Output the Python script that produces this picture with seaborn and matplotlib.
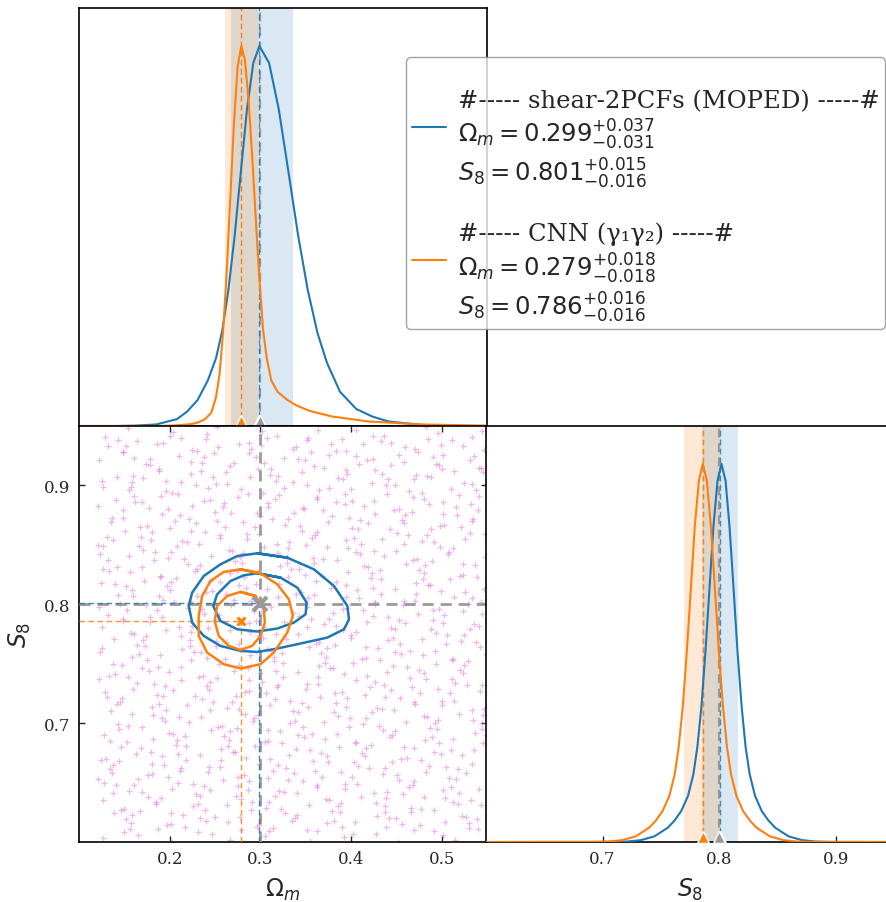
import matplotlib
matplotlib.use("Agg")
import matplotlib.pyplot as plt
from matplotlib.lines import Line2D
from matplotlib.transforms import offset_copy
import pandas as pd
import seaborn as sns

# ---------------------------------------------------------------- summary values
PARAM_NAMES = [r"\Omega_m", "S_8"]
TRUTH = [0.3, 0.8]
BEST_MOPED = [0.299, 0.801]
ERR_UP_MOPED = [0.037, 0.015]
ERR_DN_MOPED = [0.031, 0.016]
BEST_CNN = [0.279, 0.786]
ERR_UP_CNN = [0.018, 0.016]
ERR_DN_CNN = [0.018, 0.016]

# ---------------------------------------------------------------- 1D marginals (peak-normalised)
OM_X_MOPED = [0.10, 0.1396, 0.1623, 0.1851, 0.2079, 0.2193, 0.2307, 0.2421, 0.2512, 0.258,
              0.2648, 0.2717, 0.2785, 0.2853, 0.2922, 0.299, 0.3097, 0.3203, 0.331, 0.3417,
              0.3523, 0.363, 0.3737, 0.3879, 0.4057, 0.4234, 0.4412, 0.4768, 0.5123, 0.55]
OM_P_MOPED = [0.0, 0.0, 0.001, 0.004, 0.018, 0.038, 0.068, 0.12, 0.179, 0.251,
              0.358, 0.501, 0.669, 0.834, 0.955, 1.0, 0.955, 0.834, 0.669, 0.501,
              0.358, 0.245, 0.165, 0.09, 0.045, 0.025, 0.012, 0.003, 0.0, 0.0]
OM_X_CNN = [0.10, 0.189, 0.209, 0.224, 0.232, 0.239, 0.246, 0.251, 0.255, 0.259, 0.263,
            0.267, 0.271, 0.275, 0.279, 0.283, 0.287, 0.291, 0.295, 0.299, 0.303, 0.307,
            0.312, 0.319, 0.329, 0.339, 0.354, 0.379, 0.419, 0.479, 0.549]
OM_P_CNN = [0.0, 0.0, 0.002, 0.005, 0.010, 0.018, 0.035, 0.075, 0.135, 0.249, 0.411,
            0.607, 0.801, 0.946, 1.0, 0.963, 0.859, 0.710, 0.544, 0.386, 0.254, 0.18,
            0.12, 0.09, 0.07, 0.055, 0.04, 0.025, 0.012, 0.004, 0.001]

S8_X_MOPED = [0.60, 0.710, 0.7215, 0.733, 0.7445, 0.756, 0.7618, 0.7675, 0.7733, 0.7779,
              0.7813, 0.7848, 0.7882, 0.7917, 0.7951, 0.7986, 0.802, 0.8055, 0.8089, 0.8124,
              0.8158, 0.8193, 0.8227, 0.8262, 0.8308, 0.8365, 0.8423, 0.848, 0.8595, 0.871,
              0.8825, 0.894, 0.95]
S8_P_MOPED = [0.0, 0.0003, 0.0013, 0.005, 0.015, 0.038, 0.057, 0.082, 0.122, 0.179, 0.251,
              0.358, 0.501, 0.669, 0.834, 0.955, 1.0, 0.955, 0.834, 0.669, 0.501, 0.358,
              0.251, 0.179, 0.122, 0.082, 0.057, 0.038, 0.015, 0.005, 0.0013, 0.0003, 0.0]
S8_X_CNN = [0.60, 0.694, 0.7055, 0.717, 0.7285, 0.740, 0.7458, 0.7515, 0.7573, 0.7619,
            0.7653, 0.7688, 0.7722, 0.7757, 0.7791, 0.7826, 0.786, 0.7895, 0.7929, 0.7964,
            0.7998, 0.8033, 0.8067, 0.8102, 0.8148, 0.8205, 0.8263, 0.832, 0.8435, 0.855,
            0.8665, 0.878, 0.95]
S8_P_CNN = [0.0, 0.0003, 0.0013, 0.005, 0.015, 0.038, 0.057, 0.082, 0.122, 0.179, 0.251,
            0.358, 0.501, 0.669, 0.834, 0.955, 1.0, 0.955, 0.834, 0.669, 0.501, 0.358,
            0.251, 0.179, 0.122, 0.082, 0.057, 0.038, 0.015, 0.005, 0.0013, 0.0003, 0.0]

# ---------------------------------------------------------------- 2D credible contours
OM_95_MOPED = [0.2966, 0.3297, 0.3592, 0.3812, 0.3960, 0.3978, 0.3923, 0.3739, 0.3408, 0.3149,
               0.2966, 0.2781, 0.2560, 0.2376, 0.2248, 0.2210, 0.2248, 0.2376, 0.2560, 0.2745]
S8_95_MOPED = [0.8429, 0.8392, 0.8294, 0.8154, 0.7986, 0.7874, 0.7790, 0.7720, 0.7664, 0.7622,
               0.7599, 0.7608, 0.7650, 0.7734, 0.7846, 0.7986, 0.8098, 0.8238, 0.8336, 0.8406]
OM_68_MOPED = [0.2966, 0.3223, 0.3408, 0.3511, 0.3499, 0.3370, 0.3187, 0.2966, 0.2745, 0.2560,
               0.2480, 0.2524, 0.2671, 0.2818]
S8_68_MOPED = [0.8261, 0.8224, 0.8140, 0.8014, 0.7916, 0.7846, 0.7796, 0.7771, 0.7790, 0.7860,
               0.7986, 0.8084, 0.8196, 0.8244]
OM_95_CNN = [0.2781, 0.3002, 0.3187, 0.3315, 0.3359, 0.3297, 0.3149, 0.3002, 0.2781, 0.2597,
             0.2413, 0.2320, 0.2320, 0.2358, 0.2450, 0.2597]
S8_95_CNN = [0.8294, 0.8261, 0.8168, 0.8042, 0.7902, 0.7762, 0.7594, 0.7496, 0.7460, 0.7496,
             0.7594, 0.7734, 0.7902, 0.8070, 0.8196, 0.8272]
OM_68_CNN = [0.2781, 0.2947, 0.3039, 0.3050, 0.3002, 0.2910, 0.2781, 0.2652, 0.2541, 0.2497,
             0.2524, 0.2634]
S8_68_CNN = [0.8104, 0.8070, 0.7958, 0.7846, 0.7734, 0.7650, 0.7616, 0.7650, 0.7734, 0.7860,
             0.7986, 0.8070]

# ---------------------------------------------------------------- prior samples (units of 1e-3)
PRIOR_A_OM = [
    127, 156, 165, 203, 217, 231, 266, 279, 305, 314, 355, 362, 392, 402, 439, 452, 469, 501, 515, 540,
    139, 152, 167, 201, 215, 240, 250, 290, 298, 327, 338, 374, 388, 404, 437, 450, 476, 492, 522, 530,
    137, 150, 176, 185, 226, 233, 263, 273, 310, 323, 340, 372, 386, 411, 428, 457, 466, 504, 518, 532,
    121, 161, 169, 198, 209, 245, 259, 275, 308, 321, 347, 363, 393, 401, 440, 453, 468, 502, 516, 541,
    134, 144, 181, 194, 211, 243, 257, 282, 299, 328, 337, 375, 389, 403, 438, 451, 477, 486, 527, 534,
    130, 146, 179, 192, 218, 234, 264, 272, 311, 324, 339, 373, 387, 412, 422, 462, 470, 499, 510, 546,
    128, 153, 170, 199, 208, 246, 260, 274, 309, 322, 348, 357, 398, 405, 435, 445, 482, 495, 512, 544,
    135, 143, 182, 195, 210, 244, 258, 283, 293, 333, 341, 370, 381, 417, 431, 447, 480, 493, 519, 535,
    131, 145, 180, 193, 219, 228, 269, 276, 306, 316, 353, 366, 383, 415, 429, 454, 471, 500, 509, 547,
    129, 154, 164, 204, 212, 241, 252, 288, 302, 318, 351, 364, 390, 406, 436, 444, 483, 496, 511, 545,
    140, 147, 177, 187, 224, 237, 254, 286, 300, 325, 342, 371, 380, 418, 432, 446, 481, 494, 520, 529,
    123, 159, 173, 189, 222, 235, 261, 277, 307, 315, 354, 367, 382, 416, 430, 455, 465, 505, 513, 542,
    125, 157, 171, 196, 213, 242, 251, 289, 303, 317, 352, 365, 391, 400, 441, 448, 478, 488, 525, 538,
    132, 148, 178, 186, 225, 238, 253, 287, 301, 326, 336, 376, 384, 413, 424, 460, 474, 490, 523, 536,
    122, 160, 174, 188, 223, 236, 262, 271, 312, 319, 349, 359, 396, 409, 426, 458, 472, 497, 514, 543,
    124, 158, 172, 197, 207, 247, 255, 284, 295, 331, 345, 361, 394, 407, 433, 449, 479, 487, 526, 539,
    133, 142, 183, 190, 220, 230, 267, 280, 297, 329, 343, 368, 385, 414, 423, 461, 475, 489, 524, 537,
    126, 155, 166, 202, 216, 232, 265, 278, 304, 320, 350, 358, 397, 410, 425, 459, 473, 498, 508, 548,
    138, 151, 168, 200, 214, 239, 256, 285, 294, 332, 346, 360, 395, 408, 434, 443, 484, 491, 521, 531,
    136, 149, 175, 191, 221, 229, 268, 281, 296, 330, 344, 369, 379, 419, 427, 456, 467, 503, 517, 533,
    121, 161, 169, 198, 209, 245, 259, 275, 308, 321, 347, 363, 393, 401, 440, 453, 468, 502, 516, 541,
    125, 157, 171, 196, 213, 242, 251, 289, 303, 317, 352, 365, 391, 400, 441, 448, 478, 488, 525, 538,
    122, 160, 174, 188, 223, 236, 262, 271, 312, 319, 349, 359, 396, 409, 426, 458, 472, 497, 514, 543,
    132, 148, 178, 186, 225, 238, 253, 287, 301, 326, 336, 376, 384, 413, 424, 460, 474, 490, 523, 536,
    129, 154, 164, 204, 212, 241, 252, 288, 302, 318, 351, 364, 390, 406, 436, 444, 483, 496, 511, 545,
]
PRIOR_A_S8 = [
    603, 611, 606, 600, 613, 608, 602, 610, 605, 612, 601, 609, 604, 607, 613, 600, 610, 606, 602, 611,
    624, 619, 626, 615, 623, 618, 621, 627, 614, 624, 620, 616, 625, 617, 625, 620, 614, 627, 622, 616,
    641, 628, 638, 634, 630, 639, 631, 639, 634, 628, 641, 636, 630, 638, 633, 640, 629, 637, 632, 635,
    653, 648, 642, 655, 650, 644, 652, 647, 654, 643, 651, 646, 649, 655, 642, 652, 648, 644, 653, 645,
    661, 668, 657, 665, 660, 663, 669, 656, 666, 662, 658, 667, 659, 667, 662, 656, 669, 664, 658, 666,
    670, 680, 676, 672, 681, 673, 681, 676, 670, 683, 678, 672, 680, 675, 682, 671, 679, 674, 677, 683,
    690, 684, 697, 692, 686, 694, 689, 696, 685, 693, 688, 691, 697, 684, 694, 690, 686, 695, 687, 695,
    710, 699, 707, 702, 705, 711, 698, 708, 704, 700, 709, 701, 709, 704, 698, 711, 706, 700, 708, 703,
    722, 718, 714, 723, 715, 723, 718, 712, 725, 720, 714, 722, 717, 724, 713, 721, 716, 719, 725, 712,
    726, 739, 734, 728, 736, 731, 738, 727, 735, 730, 733, 739, 726, 736, 732, 728, 737, 729, 737, 732,
    741, 749, 744, 747, 753, 740, 750, 746, 742, 751, 743, 751, 746, 740, 753, 748, 742, 750, 745, 752,
    760, 756, 765, 757, 765, 760, 754, 767, 762, 756, 764, 759, 766, 755, 763, 758, 761, 767, 754, 764,
    781, 776, 770, 778, 773, 780, 769, 777, 772, 775, 781, 768, 778, 774, 770, 779, 771, 779, 774, 768,
    791, 786, 789, 795, 782, 792, 788, 784, 793, 785, 793, 788, 782, 795, 790, 784, 792, 787, 794, 783,
    798, 807, 799, 807, 802, 796, 809, 804, 798, 806, 801, 808, 797, 805, 800, 803, 809, 796, 806, 802,
    818, 812, 820, 815, 822, 811, 819, 814, 817, 823, 810, 820, 816, 812, 821, 813, 821, 816, 810, 823,
    828, 831, 837, 824, 834, 830, 826, 835, 827, 835, 830, 824, 837, 832, 826, 834, 829, 836, 825, 833,
    849, 841, 849, 844, 838, 851, 846, 840, 848, 843, 850, 839, 847, 842, 845, 851, 838, 848, 844, 840,
    854, 862, 857, 864, 853, 861, 856, 859, 865, 852, 862, 858, 854, 863, 855, 863, 858, 852, 865, 860,
    873, 879, 866, 876, 872, 868, 877, 869, 877, 872, 866, 879, 874, 868, 876, 871, 878, 867, 875, 870,
    883, 891, 886, 880, 893, 888, 882, 890, 885, 892, 881, 889, 884, 887, 893, 880, 890, 886, 882, 891,
    904, 899, 906, 895, 903, 898, 901, 907, 894, 904, 900, 896, 905, 897, 905, 900, 894, 907, 902, 896,
    921, 908, 918, 914, 910, 919, 911, 919, 914, 908, 921, 916, 910, 918, 913, 920, 909, 917, 912, 915,
    933, 928, 922, 935, 930, 924, 932, 927, 934, 923, 931, 926, 929, 935, 922, 932, 928, 924, 933, 925,
    941, 948, 937, 945, 940, 943, 949, 936, 946, 942, 938, 947, 939, 947, 942, 936, 949, 944, 938, 946,
]
PRIOR_B_OM = [
    150, 157, 187, 197, 234, 247, 264, 296, 310, 335, 352, 381, 390, 428, 442, 456, 491, 504, 530, 539,
    146, 159, 185, 201, 231, 239, 278, 291, 306, 340, 354, 379, 389, 429, 437, 466, 477, 513, 527, 543,
    141, 155, 190, 203, 229, 238, 279, 286, 316, 326, 363, 376, 393, 425, 439, 464, 481, 510, 519, 127,
    136, 165, 176, 212, 226, 242, 275, 288, 314, 330, 360, 368, 407, 420, 435, 469, 483, 508, 518, 128,
    138, 163, 180, 209, 218, 256, 270, 284, 319, 332, 358, 367, 408, 415, 445, 455, 492, 505, 522, 124,
    134, 168, 182, 207, 217, 257, 265, 294, 305, 341, 355, 371, 404, 417, 443, 459, 489, 497, 536, 549,
    144, 154, 191, 204, 221, 253, 267, 292, 309, 338, 347, 385, 399, 413, 448, 461, 487, 496, 537, 544,
    142, 158, 188, 196, 235, 248, 263, 297, 311, 336, 346, 386, 394, 423, 434, 470, 484, 500, 533, 546,
    147, 160, 186, 195, 236, 243, 273, 283, 320, 333, 350, 382, 396, 421, 438, 467, 476, 514, 528, 542,
    133, 169, 183, 199, 232, 245, 271, 287, 317, 325, 364, 377, 392, 426, 440, 465, 475, 515, 523, 122,
    137, 166, 175, 213, 227, 241, 276, 289, 315, 324, 365, 372, 402, 412, 449, 462, 479, 511, 525, 549,
    139, 164, 174, 214, 222, 251, 262, 298, 312, 328, 361, 374, 400, 416, 446, 454, 493, 506, 521, 125,
    148, 161, 178, 210, 224, 249, 266, 295, 304, 342, 356, 370, 405, 418, 444, 453, 494, 501, 531, 541,
    145, 153, 192, 205, 220, 254, 268, 293, 303, 343, 351, 380, 391, 427, 441, 457, 490, 503, 529, 545,
    143, 152, 193, 200, 230, 240, 277, 290, 307, 339, 353, 378, 395, 424, 433, 471, 485, 499, 534, 547,
    140, 156, 189, 202, 228, 244, 274, 282, 321, 334, 349, 383, 397, 422, 432, 472, 480, 509, 520, 126,
    132, 170, 184, 198, 233, 246, 272, 281, 322, 329, 359, 369, 406, 419, 436, 468, 482, 507, 524, 123,
    131, 171, 179, 208, 219, 255, 269, 285, 318, 331, 357, 373, 403, 411, 450, 463, 478, 512, 526, 121,
    135, 167, 181, 206, 223, 252, 261, 299, 313, 327, 362, 375, 401, 410, 451, 458, 488, 498, 535, 548,
    149, 162, 177, 211, 225, 250, 260, 300, 308, 337, 348, 384, 398, 414, 447, 460, 486, 502, 532, 540,
    141, 155, 190, 203, 229, 238, 279, 286, 316, 326, 363, 376, 393, 425, 439, 464, 481, 510, 519, 127,
    142, 158, 188, 196, 235, 248, 263, 297, 311, 336, 346, 386, 394, 423, 434, 470, 484, 500, 533, 546,
    148, 161, 178, 210, 224, 249, 266, 295, 304, 342, 356, 370, 405, 418, 444, 453, 494, 501, 531, 541,
    143, 152, 193, 200, 230, 240, 277, 290, 307, 339, 353, 378, 395, 424, 433, 471, 485, 499, 534, 547,
]
PRIOR_B_S8 = [
    608, 616, 611, 614, 620, 607, 617, 613, 609, 618, 610, 618, 613, 607, 620, 615, 609, 617, 612, 619,
    627, 623, 632, 624, 632, 627, 621, 634, 629, 623, 631, 626, 633, 622, 630, 625, 628, 634, 621, 631,
    648, 643, 637, 645, 640, 647, 636, 644, 639, 642, 648, 635, 645, 641, 637, 646, 638, 646, 641, 635,
    658, 653, 656, 662, 649, 659, 655, 651, 660, 652, 660, 655, 649, 662, 657, 651, 659, 654, 661, 650,
    665, 674, 666, 674, 669, 663, 676, 671, 665, 673, 668, 675, 664, 672, 667, 670, 676, 663, 673, 669,
    685, 679, 687, 682, 689, 678, 686, 681, 684, 690, 677, 687, 683, 679, 688, 680, 688, 683, 677, 690,
    695, 698, 704, 691, 701, 697, 693, 702, 694, 702, 697, 691, 704, 699, 693, 701, 696, 703, 692, 700,
    716, 708, 716, 711, 705, 718, 713, 707, 715, 710, 717, 706, 714, 709, 712, 718, 705, 715, 711, 707,
    721, 729, 724, 731, 720, 728, 723, 726, 732, 719, 729, 725, 721, 730, 722, 730, 725, 719, 732, 727,
    740, 746, 733, 743, 739, 735, 744, 736, 744, 739, 733, 746, 741, 735, 743, 738, 745, 734, 742, 737,
    750, 758, 753, 747, 760, 755, 749, 757, 752, 759, 748, 756, 751, 754, 760, 747, 757, 753, 749, 758,
    771, 766, 773, 762, 770, 765, 768, 774, 761, 771, 767, 763, 772, 764, 772, 767, 761, 774, 769, 763,
    788, 775, 785, 781, 777, 786, 778, 786, 781, 775, 788, 783, 777, 785, 780, 787, 776, 784, 779, 782,
    800, 795, 789, 802, 797, 791, 799, 794, 801, 790, 798, 793, 796, 802, 789, 799, 795, 791, 800, 792,
    808, 815, 804, 812, 807, 810, 816, 803, 813, 809, 805, 814, 806, 814, 809, 803, 816, 811, 805, 813,
    817, 827, 823, 819, 828, 820, 828, 823, 817, 830, 825, 819, 827, 822, 829, 818, 826, 821, 824, 830,
    837, 831, 844, 839, 833, 841, 836, 843, 832, 840, 835, 838, 844, 831, 841, 837, 833, 842, 834, 842,
    857, 846, 854, 849, 852, 858, 845, 855, 851, 847, 856, 848, 856, 851, 845, 858, 853, 847, 855, 850,
    869, 865, 861, 870, 862, 870, 865, 859, 872, 867, 861, 869, 864, 871, 860, 868, 863, 866, 872, 859,
    873, 886, 881, 875, 883, 878, 885, 874, 882, 877, 880, 886, 873, 883, 879, 875, 884, 876, 884, 879,
    888, 896, 891, 894, 900, 887, 897, 893, 889, 898, 890, 898, 893, 887, 900, 895, 889, 897, 892, 899,
    907, 903, 912, 904, 912, 907, 901, 914, 909, 903, 911, 906, 913, 902, 910, 905, 908, 914, 901, 911,
    928, 923, 917, 925, 920, 927, 916, 924, 919, 922, 928, 915, 925, 921, 917, 926, 918, 926, 921, 915,
    938, 933, 936, 942, 929, 939, 935, 931, 940, 932, 940, 935, 929, 942, 937, 931, 939, 934, 941, 930,
]

OM_TICKS = [0.2, 0.3, 0.4, 0.5]
S8_TICKS = [0.7, 0.8, 0.9]
OM_RANGE = (0.1, 0.55)
S8_RANGE = (0.6, 0.95)

BLUE = "#1f77b4"
ORANGE = "#ff7f0e"
GREY = "#9a9a9a"
PRIOR_COLOR = "#d64fd6"

sns.set_theme(style="white")
plt.rcParams["font.family"] = ["DejaVu Serif", "DejaVu Sans"]
plt.rcParams["mathtext.fontset"] = "dejavusans"
plt.rcParams["axes.edgecolor"] = "black"
plt.rcParams["axes.linewidth"] = 1.2

W, H = 887, 903
fig = plt.figure(figsize=(W / 100, H / 100), dpi=100)
fig.patch.set_facecolor("white")


def px_axes(x0, y0, x1, y1):
    return fig.add_axes([x0 / W, 1 - y1 / H, (x1 - x0) / W, (y1 - y0) / H])


ax_om = px_axes(79, 9, 487, 427)
ax_2d = px_axes(79, 427, 487, 843)
ax_s8 = px_axes(486, 427, 894, 843)


def curve(ax, xs, ys, color, lw, **kw):
    df = pd.DataFrame({"x": xs, "y": ys})
    sns.lineplot(data=df, x="x", y="y", sort=False, estimator=None, color=color,
                 lw=lw, ax=ax, legend=False, solid_joinstyle="round",
                 solid_capstyle="round", **kw)


def loop(ax, xs, ys, color, lw):
    curve(ax, list(xs) + [xs[0], xs[1]], list(ys) + [ys[0], ys[1]], color, lw, zorder=6)


def base_triangle(ax, x, color, size):
    tr = offset_copy(ax.transData, fig=fig, x=0, y=size * 0.42, units="points")
    ax.plot([x], [0], marker="^", ms=size, color=color, mec="white", mew=1.0,
            transform=tr, clip_on=False, zorder=8)


# ---------------------------------------------------------------- 1D panels
for ax, idx, xs_m, ps_m, xs_c, ps_c in [
    (ax_om, 0, OM_X_MOPED, OM_P_MOPED, OM_X_CNN, OM_P_CNN),
    (ax_s8, 1, S8_X_MOPED, S8_P_MOPED, S8_X_CNN, S8_P_CNN),
]:
    ax.axvspan(BEST_MOPED[idx] - ERR_DN_MOPED[idx], BEST_MOPED[idx] + ERR_UP_MOPED[idx],
               color=BLUE, alpha=0.17, lw=0, zorder=1)
    ax.axvspan(BEST_CNN[idx] - ERR_DN_CNN[idx], BEST_CNN[idx] + ERR_UP_CNN[idx],
               color=ORANGE, alpha=0.17, lw=0, zorder=1)
    ax.axvline(TRUTH[idx], color=GREY, lw=1.6, ls=(0, (4, 2.5)), zorder=2)
    ax.axvline(BEST_MOPED[idx], color=BLUE, lw=1.0, ls=(0, (4, 2.5)), alpha=0.8, zorder=2)
    ax.axvline(BEST_CNN[idx], color=ORANGE, lw=1.0, ls=(0, (4, 2.5)), zorder=2)
    curve(ax, xs_m, ps_m, BLUE, 1.5, zorder=4)
    curve(ax, xs_c, ps_c, ORANGE, 1.5, zorder=4)
    base_triangle(ax, BEST_CNN[idx], ORANGE, 9)
    base_triangle(ax, BEST_MOPED[idx], BLUE, 9)
    base_triangle(ax, TRUTH[idx], GREY, 9)
    ax.set_ylim(0, 1.1)
    ax.set_yticks([])
    ax.set_ylabel("")

ax_om.set_xlim(*OM_RANGE)
ax_om.set_xticks([])
ax_om.set_xlabel("")

ax_s8.set_xlim(*S8_RANGE)
ax_s8.set_xticks(S8_TICKS)
ax_s8.set_xticklabels([f"{t:.1f}" for t in S8_TICKS])
ax_s8.tick_params(axis="x", direction="in", length=4, width=1, labelsize=12,
                  bottom=True, top=False, pad=6)
ax_s8.set_xlabel(r"$S_8$", fontsize=17, labelpad=6)

# ---------------------------------------------------------------- 2D panel
prior_om = [v / 1000 for v in PRIOR_A_OM + PRIOR_B_OM]
prior_s8 = [v / 1000 for v in PRIOR_A_S8 + PRIOR_B_S8]
ax_2d.scatter(prior_om, prior_s8, marker="+", s=24, c=PRIOR_COLOR, alpha=0.4,
              linewidths=0.9, zorder=1)

ax_2d.axvline(TRUTH[0], color=GREY, lw=2.0, ls=(0, (4, 2.5)), zorder=3)
ax_2d.axhline(TRUTH[1], color=GREY, lw=2.0, ls=(0, (4, 2.5)), zorder=3)
for best, col in [(BEST_MOPED, BLUE), (BEST_CNN, ORANGE)]:
    ax_2d.plot([OM_RANGE[0], best[0]], [best[1], best[1]], color=col, lw=1.0,
               ls=(0, (4, 2.5)), zorder=4, alpha=0.85)
    ax_2d.plot([best[0], best[0]], [S8_RANGE[0], best[1]], color=col, lw=1.0,
               ls=(0, (4, 2.5)), zorder=4, alpha=0.85)

loop(ax_2d, OM_95_MOPED, S8_95_MOPED, BLUE, 1.8)
loop(ax_2d, OM_68_MOPED, S8_68_MOPED, BLUE, 1.8)
loop(ax_2d, OM_95_CNN, S8_95_CNN, ORANGE, 1.8)
loop(ax_2d, OM_68_CNN, S8_68_CNN, ORANGE, 1.8)

ax_2d.plot([TRUTH[0]], [TRUTH[1]], marker="x", ms=10, mew=3, color=GREY, zorder=8)
ax_2d.plot([BEST_CNN[0]], [BEST_CNN[1]], marker="x", ms=6, mew=2.2, color=ORANGE, zorder=9)

ax_2d.set_xlim(*OM_RANGE)
ax_2d.set_ylim(*S8_RANGE)
ax_2d.set_xticks(OM_TICKS)
ax_2d.set_xticklabels([f"{t:.1f}" for t in OM_TICKS])
ax_2d.set_yticks(S8_TICKS)
ax_2d.set_yticklabels([f"{t:.1f}" for t in S8_TICKS])
ax_2d.tick_params(direction="in", length=4, width=1, labelsize=12,
                  top=True, right=True, bottom=True, left=True, pad=6)
ax_2d.set_xlabel(r"$\Omega_m$", fontsize=17, labelpad=6)
ax_2d.set_ylabel(r"$S_8$", fontsize=17, labelpad=8)

for ax in (ax_om, ax_2d, ax_s8):
    for sp in ax.spines.values():
        sp.set_color("black")
        sp.set_linewidth(1.2)
    ax.set_facecolor("white")

# ---------------------------------------------------------------- legend
def summary(best, up, dn):
    return "\n".join(
        rf"${PARAM_NAMES[i]} = {best[i]:.3f}^{{+{up[i]:.3f}}}_{{-{dn[i]:.3f}}}$"
        for i in range(2)
    )


labels = [
    "\n#----- shear-2PCFs (MOPED) -----#\n" + summary(BEST_MOPED, ERR_UP_MOPED, ERR_DN_MOPED),
    "\n#----- CNN (\u03b3\u2081\u03b3\u2082) -----#\n" + summary(BEST_CNN, ERR_UP_CNN, ERR_DN_CNN),
]
handles = [Line2D([], [], color=BLUE, lw=1.5), Line2D([], [], color=ORANGE, lw=1.5)]
leg = fig.legend(handles, labels, loc="upper right",
                 bbox_to_anchor=(885 / W, 1 - 58 / H), bbox_transform=fig.transFigure,
                 fontsize=17.5, handlelength=1.4, handletextpad=0.5, labelspacing=0.2,
                 borderpad=0.22, borderaxespad=0.0,
                 frameon=True, fancybox=True, framealpha=0.8, edgecolor="0.55")
leg.set_zorder(20)

fig.savefig("out.png", dpi=100, facecolor="white")
